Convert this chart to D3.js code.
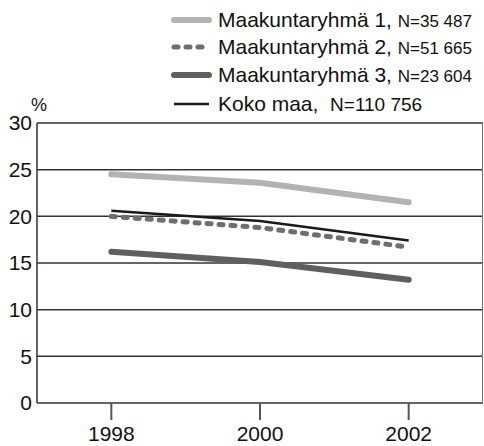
<!DOCTYPE html>
<html>
<head>
<meta charset="utf-8">
<script src="https://cdn.jsdelivr.net/npm/d3@7"></script>
<style>
  body { margin: 0; background: #fff; }
  svg { display: block; font-family: "Liberation Sans", Arial, sans-serif; }
  text { white-space: pre; }
</style>
</head>
<body>
<div id="chart"></div>
<script>
let years = [1998, 2000, 2002];
let ryhma1 = [24.5, 23.6, 21.5];
let ryhma2 = [20.0, 18.8, 16.7];
let ryhma3 = [16.2, 15.1, 13.2];
let kokoMaa = [20.6, 19.5, 17.4];
let yTicks = [0, 5, 10, 15, 20, 25, 30];
let seriesNames = ["Maakuntaryhmä 1, ", "Maakuntaryhmä 2, ", "Maakuntaryhmä 3, ", "Koko maa,  "];
let seriesN = ["N=35 487", "N=51 665", "N=23 604", "N=110 756"];

let width = 484, height = 446;
let margin = { top: 123, right: 1, bottom: 43, left: 37 };

let svg = d3.select("#chart").append("svg")
    .attr("width", width)
    .attr("height", height);

let x = d3.scaleLinear().domain([1997, 2003]).range([margin.left, width - margin.right]);
let y = d3.scaleLinear().domain([0, 30]).range([height - margin.bottom, margin.top]);

// grid lines
svg.append("g").selectAll("line")
    .data(yTicks)
    .enter()
    .append("line")
    .attr("x1", margin.left)
    .attr("x2", width - margin.right)
    .attr("y1", d => y(d))
    .attr("y2", d => y(d))
    .attr("stroke", "#333")
    .attr("stroke-width", 1.5);

// frame left and right
svg.append("line")
    .attr("x1", margin.left).attr("x2", margin.left)
    .attr("y1", y(30)).attr("y2", y(0))
    .attr("stroke", "#333").attr("stroke-width", 1.5);
svg.append("line")
    .attr("x1", width - margin.right - 0.5).attr("x2", width - margin.right - 0.5)
    .attr("y1", y(30)).attr("y2", y(0))
    .attr("stroke", "#777").attr("stroke-width", 1);

// y labels
svg.append("g").selectAll("text")
    .data(yTicks)
    .enter()
    .append("text")
    .attr("x", margin.left - 5)
    .attr("y", d => y(d))
    .attr("dy", "0.35em")
    .attr("text-anchor", "end")
    .attr("font-size", 21)
    .attr("fill", "#111")
    .text(d => d);

svg.append("text")
    .attr("x", 31)
    .attr("y", 111)
    .attr("font-size", 18)
    .attr("fill", "#111")
    .text("%");

// x ticks and labels
let xg = svg.append("g");
xg.selectAll("line")
    .data(years)
    .enter()
    .append("line")
    .attr("x1", d => x(d)).attr("x2", d => x(d))
    .attr("y1", y(0)).attr("y2", y(0) + 17)
    .attr("stroke", "#555").attr("stroke-width", 2);
xg.selectAll("text")
    .data(years)
    .enter()
    .append("text")
    .attr("x", d => x(d))
    .attr("y", 441)
    .attr("text-anchor", "middle")
    .attr("font-size", 21)
    .attr("fill", "#111")
    .text(d => d);

let styles = [
    { color: "#b3b3b3", w: 6, dash: null },
    { color: "#6e6e6e", w: 5, dash: "4,8" },
    { color: "#5f5f5f", w: 6, dash: null },
    { color: "#1a1a1a", w: 2.5, dash: null }
];
let allSeries = [ryhma1, ryhma2, ryhma3, kokoMaa];

let line = d3.line()
    .x((d, i) => x(years[i]))
    .y(d => y(d));

svg.append("g").selectAll("path")
    .data(allSeries)
    .enter()
    .append("path")
    .attr("d", d => line(d))
    .attr("fill", "none")
    .attr("stroke", (d, i) => styles[i].color)
    .attr("stroke-width", (d, i) => styles[i].w)
    .attr("stroke-dasharray", (d, i) => styles[i].dash)
    .attr("stroke-linecap", (d, i) => i === 3 ? "butt" : "round")
    .attr("stroke-linejoin", "round");

// legend
let legendY = [20, 47, 75, 104];
let legend = svg.append("g");
seriesNames.forEach((name, i) => {
    let s = styles[i];
    legend.append("line")
        .attr("x1", 174).attr("x2", i === 1 ? 206 : 209)
        .attr("y1", legendY[i]).attr("y2", legendY[i])
        .attr("stroke", s.color)
        .attr("stroke-width", s.w)
        .attr("stroke-dasharray", s.dash)
        .attr("stroke-linecap", i === 3 ? "butt" : "round");
    let t = legend.append("text")
        .attr("x", 218)
        .attr("y", legendY[i])
        .attr("dy", "0.35em")
        .attr("font-size", 21)
        .attr("fill", "#111");
    t.append("tspan").text(name);
    t.append("tspan").attr("font-size", i === 3 ? 19 : 17).text(seriesN[i]);
});
</script>
</body>
</html>
